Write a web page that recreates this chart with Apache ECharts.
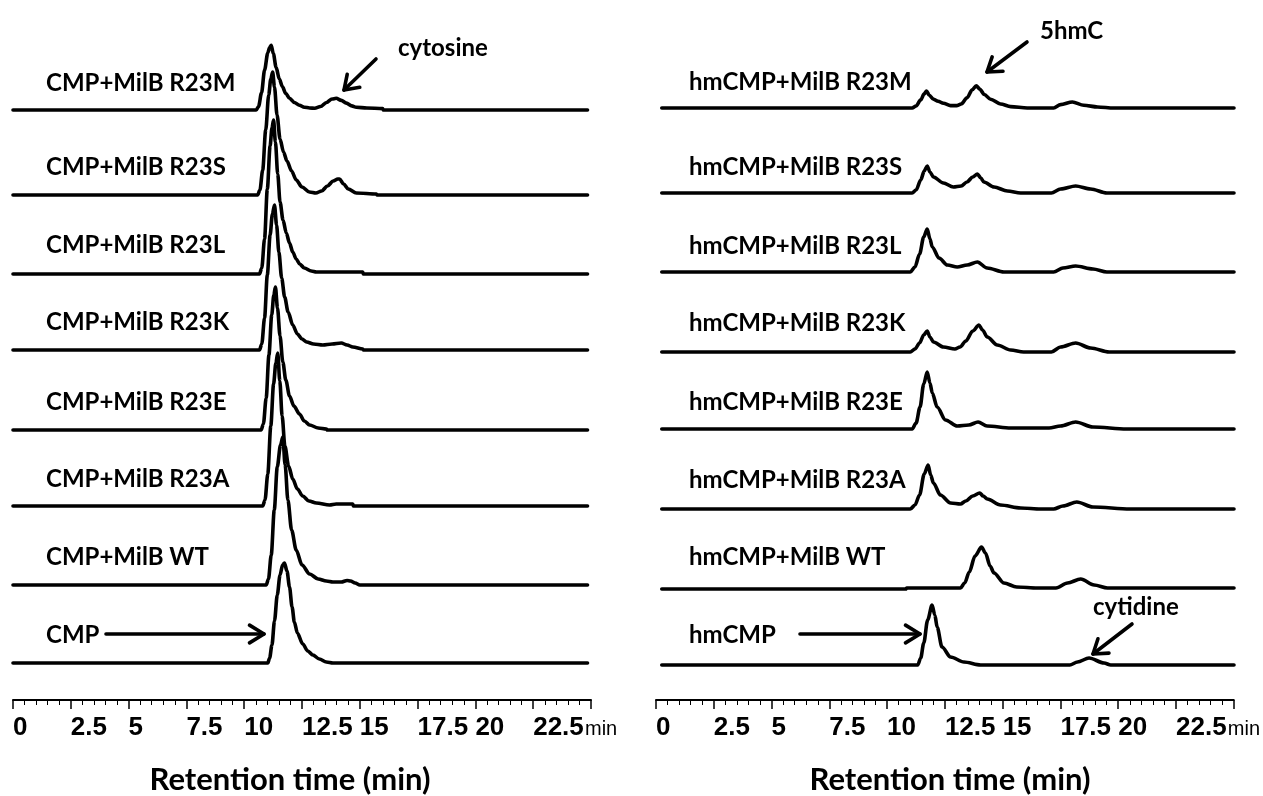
<!DOCTYPE html>
<html><head><meta charset="utf-8">
<script src="https://cdn.jsdelivr.net/npm/echarts@6/dist/echarts.min.js"></script>
<style>html,body{margin:0;padding:0;background:#fff}#c{width:1263px;height:796px}</style>
</head><body><div id="c"></div>
<script>
// ---------------- data ----------------
const tickLabels = ['0','2.5','5','7.5','10','12.5','15','17.5','20','22.5','min'];
const leftNames  = ['CMP+MilB R23M','CMP+MilB R23S','CMP+MilB R23L','CMP+MilB R23K','CMP+MilB R23E','CMP+MilB R23A','CMP+MilB WT','CMP'];
const rightNames = ['hmCMP+MilB R23M','hmCMP+MilB R23S','hmCMP+MilB R23L','hmCMP+MilB R23K','hmCMP+MilB R23E','hmCMP+MilB R23A','hmCMP+MilB WT','hmCMP'];
const axisTitle = 'Retention time (min)';

// [retention time (min), signal]
const leftM   = [[0,0],[10.52,0],[10.62,5],[10.75,25],[10.88,58],[11.02,83],[11.1,91],[11.17,94],[11.26,82],[11.38,62],[11.52,45],[11.65,34],[11.8,24],[11.96,17],[12.17,11],[12.39,7],[12.6,4],[12.83,3],[13.05,2.5],[13.3,5],[13.56,11],[13.8,16],[13.98,17],[14.2,14],[14.42,10],[14.65,6],[14.85,4],[15.3,3],[15.99,2],[16.02,0],[24.85,0]];
const leftS   = [[0,0],[10.58,0],[10.68,5],[10.8,25],[10.93,65],[11.06,100],[11.15,116],[11.23,123],[11.31,108],[11.42,80],[11.55,56],[11.7,43],[11.85,34],[12.05,24],[12.25,15],[12.5,8],[12.82,3],[13.1,2],[13.35,4],[13.6,9],[13.85,14],[14.05,16],[14.12,16],[14.3,11],[14.5,6],[14.85,2],[15.72,1],[15.75,0],[24.85,0]];
const leftL   = [[0,0],[10.66,0],[10.76,6],[10.88,35],[11.0,85],[11.12,128],[11.2,146],[11.27,154],[11.35,132],[11.45,100],[11.55,72],[11.68,54],[11.82,41],[11.96,31],[12.1,22],[12.25,15],[12.4,10],[12.6,6],[12.9,3],[13.12,2],[15.13,2],[15.15,0],[24.85,0]];
const leftK   = [[0,0],[10.66,0],[10.76,6],[10.88,32],[11.0,75],[11.12,115],[11.22,136],[11.31,145],[11.4,125],[11.5,98],[11.62,72],[11.75,53],[11.9,38],[12.1,25],[12.3,16],[12.5,11],[12.7,8],[13.0,6],[13.4,5],[13.8,6],[14.2,7],[14.45,5],[14.7,3],[15.13,1],[15.15,0],[24.85,0]];
const leftE   = [[0,0],[10.73,0],[10.83,6],[10.95,32],[11.07,75],[11.19,115],[11.28,135],[11.35,143],[11.44,122],[11.55,94],[11.67,68],[11.8,50],[11.96,34],[12.15,24],[12.39,16],[12.6,9],[12.83,5],[13.2,2],[13.55,1],[13.6,0],[24.85,0]];
const leftA   = [[0,0],[10.8,0],[10.9,6],[11.02,32],[11.15,80],[11.27,122],[11.37,143],[11.45,153],[11.54,125],[11.64,90],[11.76,60],[11.92,40],[12.1,27],[12.3,17],[12.53,10],[12.8,5],[13.12,3],[13.69,1],[13.98,2],[14.7,2],[14.72,0],[24.85,0]];
const leftWT  = [[0,0],[10.95,0],[11.05,6],[11.17,30],[11.3,75],[11.43,118],[11.57,140],[11.67,148],[11.77,120],[11.89,85],[12.05,55],[12.25,35],[12.5,20],[12.83,11],[13.2,6],[13.55,4],[13.84,3],[14.2,3],[14.45,4.5],[14.6,4],[14.8,2],[15.0,0],[24.85,0]];
const leftCMP = [[0,0],[11.02,0],[11.1,5],[11.2,18],[11.31,42],[11.43,68],[11.55,88],[11.66,98],[11.74,100],[11.85,92],[11.96,76],[12.07,56],[12.17,41],[12.3,30],[12.53,19],[12.75,12],[12.97,8],[13.25,4],[13.55,1],[13.84,0],[24.85,0]];

const rightM   = [[0.25,0],[11.08,0],[11.25,3],[11.45,12],[11.6,21],[11.7,25],[11.82,19],[12.0,13],[12.2,10],[12.43,7],[12.74,3.5],[13.0,3.5],[13.2,6],[13.45,15],[13.68,27],[13.85,33],[14.0,28],[14.2,20],[14.47,13],[14.9,6],[15.34,2],[16.06,0],[17.2,0],[17.5,5],[18.01,9],[18.5,4],[19.1,1.5],[19.8,0],[25,0]];
const rightS   = [[0.25,0],[11.08,0],[11.25,3],[11.45,13],[11.6,22],[11.73,27],[11.85,21],[12.0,16],[12.43,10],[12.86,6],[13.2,7],[13.45,11],[13.7,16],[13.9,19],[14.05,15],[14.18,11],[14.62,6],[15.2,2],[15.77,0],[17.1,0],[17.5,4],[18.15,7],[18.8,4],[19.5,0],[25,0]];
const rightL   = [[0.25,0],[11.0,0],[11.2,5],[11.4,18],[11.58,35],[11.73,43],[11.85,33],[11.95,25],[12.24,14],[12.6,7],[13.03,5],[13.46,7],[13.9,10],[14.32,4],[15.05,0],[17.2,0],[17.6,4],[18.15,6],[18.9,3],[19.5,0],[25,0]];
const rightK   = [[0.25,0],[11.0,0],[11.2,3],[11.4,9],[11.58,17],[11.73,21],[11.85,15],[12.0,10],[12.43,5],[12.93,3],[13.15,5],[13.4,11],[13.7,21],[13.97,27],[14.12,22],[14.33,15],[14.76,7],[15.34,2],[15.9,0],[17.1,0],[17.5,5],[18.15,9],[18.8,4],[19.6,0],[25,0]];
const rightE   = [[0.25,0],[11.08,0],[11.25,6],[11.42,22],[11.58,45],[11.73,57],[11.85,46],[11.95,36],[12.16,22],[12.52,9],[13.03,3],[13.53,4],[13.93,7],[14.32,3],[15.34,1],[17.0,1],[17.5,3],[18.15,7],[18.9,2],[20.35,0],[25,0]];
const rightA   = [[0.25,0],[11.0,0],[11.2,4],[11.4,14],[11.6,35],[11.77,44],[11.88,34],[12.0,26],[12.3,14],[12.74,6],[13.17,5],[13.4,8],[13.7,13],[14.0,16],[14.15,13],[14.33,10],[14.9,4],[15.77,1],[16.64,0],[17.2,0],[17.6,3],[18.2,7],[18.9,2],[20.5,0],[25,0]];
const rightWT  = [[0.25,-1],[10.8,-1],[10.85,0],[13.17,0],[13.35,5],[13.55,16],[13.8,32],[14.08,41],[14.25,35],[14.45,22],[14.62,15],[15.05,5],[15.6,1],[16.5,0],[17.3,0],[17.8,5],[18.37,9],[18.95,3],[19.53,0],[25,0]];
const rightCMP = [[0.25,0],[11.32,0],[11.45,7],[11.58,22],[11.75,45],[11.94,60],[12.06,50],[12.16,38],[12.37,18],[12.74,8],[13.32,3],[14.04,0],[17.9,0],[18.23,3],[18.73,7],[19.38,2],[19.67,0],[25,0]];

const leftTraces  = [leftM,leftS,leftL,leftK,leftE,leftA,leftWT,leftCMP];
const rightTraces = [rightM,rightS,rightL,rightK,rightE,rightA,rightWT,rightCMP];

// ---------------- layout ----------------
const panels = [
  {left: 13, right: 672, baselines: [110,195,274,350,430,506,585,663], labelX: 46, labelYs: [83,167,245,322,402,479,557,635], traces: leftTraces, names: leftNames, titleX: 290},
  {left: 656, right: 29, baselines: [108,193,272,352,429,509,588,665], labelX: 689, labelYs: [82,167,246,323,402,480,557,635], traces: rightTraces, names: rightNames, titleX: 950}
];
const GH = 160, AXIS_Y = 700;
const labelFont = 'bold 24px Lato, "Open Sans", sans-serif';

const grid = [], xAxis = [], yAxis = [], series = [], graphic = [];
panels.forEach((p) => {
  p.traces.forEach((tr, i) => {
    const gi = grid.length;
    grid.push({left: p.left, right: p.right, top: p.baselines[i] - GH, height: GH});
    xAxis.push({type: 'value', gridIndex: gi, min: 0, max: 25, show: false});
    yAxis.push({type: 'value', gridIndex: gi, min: 0, max: GH, show: false});
    series.push({type: 'line', xAxisIndex: gi, yAxisIndex: gi, data: tr, showSymbol: false, silent: true,
      smooth: 0.3, smoothMonotone: 'x', clip: false,
      lineStyle: {color: '#000', width: 3.6, join: 'round', cap: 'round'}});
  });
  const ai = grid.length;
  grid.push({left: p.left, right: p.right, top: AXIS_Y - 100, height: 100});
  xAxis.push({type: 'value', gridIndex: ai, min: 0, max: 25, interval: 2.5,
    axisLine: {show: true, onZero: false, lineStyle: {color: '#000', width: 2}},
    axisTick: {show: true, length: 9, lineStyle: {color: '#000', width: 1.5}},
    minorTick: {show: true, splitNumber: 5, length: 5, lineStyle: {color: '#000', width: 1}},
    splitLine: {show: false},
    axisLabel: {show: true, showMinLabel: true, showMaxLabel: true, margin: 15, align: 'left',
      color: '#000', fontWeight: 'bold', fontSize: 26, fontFamily: '"Liberation Sans", Arial, sans-serif',
      formatter: (v) => {
        const s = tickLabels[Math.round(v / 2.5)];
        return s === 'min' ? '{u|min}' : s;
      },
      rich: {u: {fontSize: 20, fontWeight: 'normal', color: '#000', fontFamily: '"Liberation Sans", Arial, sans-serif', padding: [4, 0, 0, -6]}}
    }
  });
  yAxis.push({type: 'value', gridIndex: ai, min: 0, max: 1, show: false});

  p.names.forEach((n, i) => {
    graphic.push({type: 'text', silent: true, style: {text: n, x: p.labelX, y: p.labelYs[i], fill: '#000', font: labelFont, verticalAlign: 'middle', align: 'left'}});
  });
  graphic.push({type: 'text', silent: true, style: {text: axisTitle, x: p.titleX, y: 780, fill: '#000', font: 'bold 31px Lato, "Open Sans", sans-serif', verticalAlign: 'middle', align: 'center'}});
});

function arrow(x1, y1, x2, y2, head, spread) {
  const a = Math.atan2(y2 - y1, x2 - x1);
  const h1 = [x2 - head * Math.cos(a - spread), y2 - head * Math.sin(a - spread)];
  const h2 = [x2 - head * Math.cos(a + spread), y2 - head * Math.sin(a + spread)];
  const st = {stroke: '#000', lineWidth: 3.6, lineCap: 'round', lineJoin: 'round', fill: null};
  return [
    {type: 'line', silent: true, shape: {x1, y1, x2, y2}, style: st},
    {type: 'polyline', silent: true, shape: {points: [h1, [x2, y2], h2]}, style: st}
  ];
}
graphic.push(...arrow(106, 634, 264, 634, 17, 0.55));
graphic.push(...arrow(800, 634, 920, 634, 17, 0.55));
graphic.push(...arrow(376, 59, 344, 90, 16, 0.6));
graphic.push(...arrow(1027, 42, 987, 72, 16, 0.6));
graphic.push(...arrow(1132, 624, 1093, 654, 16, 0.6));
const noteFont = 'bold 24px Lato, "Open Sans", sans-serif';
graphic.push({type: 'text', silent: true, style: {text: 'cytosine', x: 398, y: 48, fill: '#000', font: noteFont, verticalAlign: 'middle', align: 'left'}});
graphic.push({type: 'text', silent: true, style: {text: '5hmC', x: 1040, y: 31, fill: '#000', font: noteFont, verticalAlign: 'middle', align: 'left'}});
graphic.push({type: 'text', silent: true, style: {text: 'cytidine', x: 1093, y: 607, fill: '#000', font: noteFont, verticalAlign: 'middle', align: 'left'}});

const chart = echarts.init(document.getElementById('c'), null, {renderer: 'canvas'});
chart.setOption({backgroundColor: '#fff', animation: false, grid, xAxis, yAxis, series, graphic});
</script></body></html>
